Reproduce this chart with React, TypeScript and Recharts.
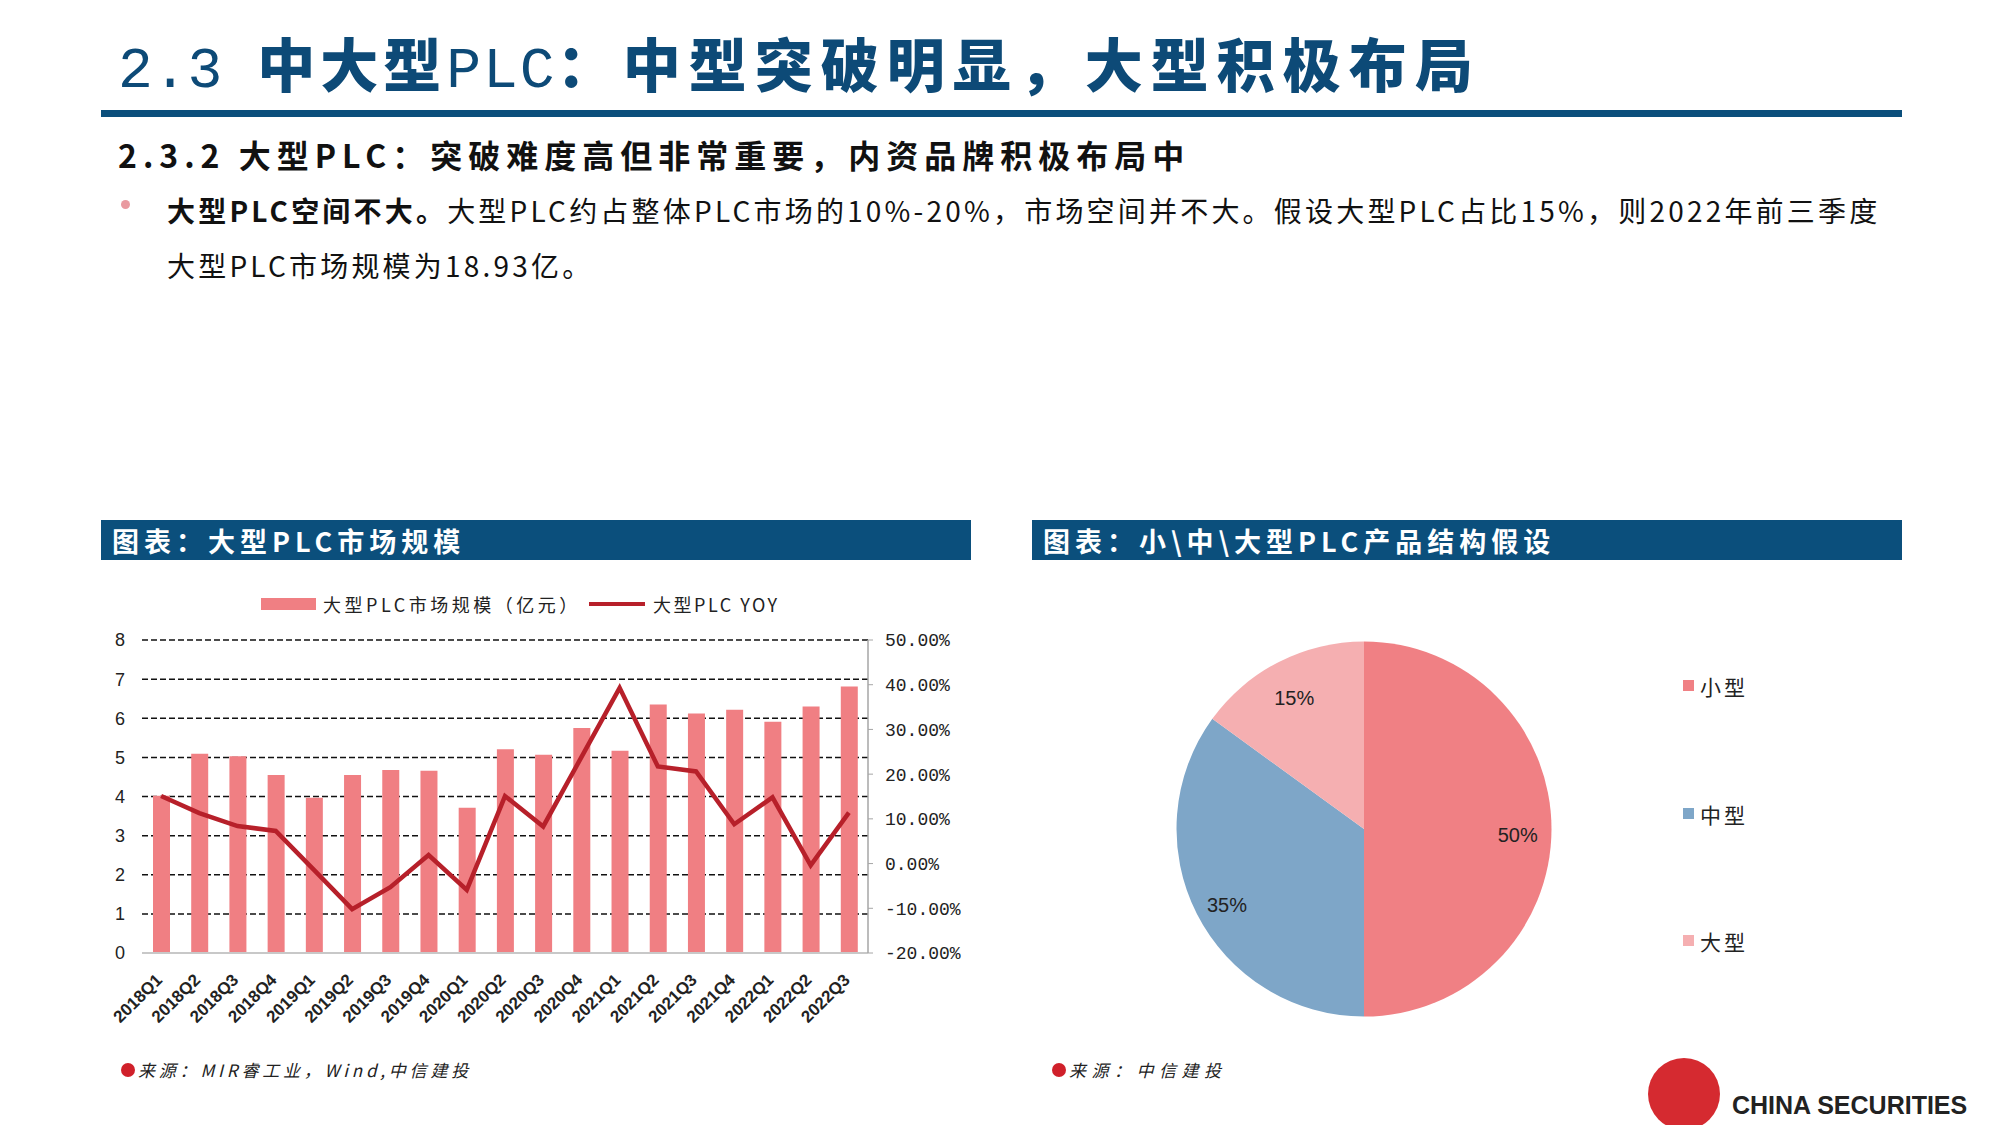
import React from 'react';
import { ComposedChart, Bar, Line, XAxis, YAxis, CartesianGrid, PieChart, Pie, Cell } from 'recharts';

const quarters = [
  '2018Q1', '2018Q2', '2018Q3', '2018Q4', '2019Q1', '2019Q2', '2019Q3', '2019Q4',
  '2020Q1', '2020Q2', '2020Q3', '2020Q4', '2021Q1', '2021Q2', '2021Q3', '2021Q4',
  '2022Q1', '2022Q2', '2022Q3',
];
const marketSize = [4.02, 5.09, 5.03, 4.55, 3.97, 4.55, 4.68, 4.66, 3.71, 5.21, 5.07, 5.75, 5.17, 6.35, 6.12, 6.22, 5.91, 6.3, 6.81];
const yoyPct = [15.1, 11.3, 8.4, 7.3, -1.4, -10.2, -5.3, 1.9, -5.9, 15.1, 8.3, 23.8, 39.3, 21.7, 20.6, 8.8, 14.8, -0.4, 11.4];
const leftTicks = [0, 1, 2, 3, 4, 5, 6, 7, 8];
const rightTicks = [-20, -10, 0, 10, 20, 30, 40, 50];

const pieNames = ['小型', '中型', '大型'];
const pieValues = [50, 35, 15];

const BAR_COLOR = '#F07F83';
const LINE_COLOR = '#B7202A';
const PIE_COLORS = ['#F08084', '#7EA6C8', '#F5AFB1'];
const NAVY = '#0B4F7C';

const sizeData = quarters.map((q, i) => ({ q, size: marketSize[i], yoy: yoyPct[i] }));
const pieData = pieNames.map((name, i) => ({ name, value: pieValues[i] }));

const cjk = '"Noto Sans CJK SC", "Noto Sans", sans-serif';
const mono = '"Liberation Mono", monospace';

const XTick = (props: any) => {
  const { x, y, payload } = props;
  return (
    <g transform={`translate(${x + 2},${y + 26})`}>
      <text transform="rotate(-45)" textAnchor="end" fontFamily="Liberation Sans, Arial" fontWeight="bold" fontSize={17} fill="#222">
        {payload.value}
      </text>
    </g>
  );
};

const RAD = Math.PI / 180;
const pieLabel = (props: any) => {
  const { cx, cy, midAngle, outerRadius, value } = props;
  const r = outerRadius * 0.82;
  const x = cx + r * Math.cos(-midAngle * RAD);
  const y = cy + r * Math.sin(-midAngle * RAD) + 6;
  return (
    <text x={x} y={y} textAnchor="middle" dominantBaseline="central" fontFamily='"Liberation Sans Narrow", "Liberation Sans"' fontSize={20} fill="#222">
      {`${value}%`}
    </text>
  );
};

const abs = (s: React.CSSProperties): React.CSSProperties => ({ position: 'absolute', ...s });

export default function App() {
  return (
    <div style={abs({ left: 0, top: 0, width: 2000, height: 1125, background: '#fff', overflow: 'hidden', fontFamily: cjk })}>
      {/* page title */}
      <div style={abs({ left: 118, top: 33, fontSize: 58, lineHeight: '58px', color: '#0D4A77', whiteSpace: 'nowrap', fontWeight: 900 })}>
        <span style={{ fontFamily: mono, fontWeight: 400 }}>2.3 </span>
        <span style={{ letterSpacing: 5 }}>中大型</span>
        <span style={{ fontFamily: mono, fontWeight: 400, letterSpacing: 2 }}>PLC</span>
        <span style={{ letterSpacing: 8 }}>：中型突破明显，大型积极布局</span>
      </div>
      <div style={abs({ left: 101, top: 110, width: 1801, height: 7, background: NAVY })} />

      <div style={abs({ left: 118, top: 138, fontSize: 32, lineHeight: '32px', fontWeight: 700, color: '#111', letterSpacing: 6, whiteSpace: 'nowrap' })}>
        2.3.2 大型PLC：突破难度高但非常重要，内资品牌积极布局中
      </div>

      <div style={abs({ left: 121, top: 200, width: 9, height: 9, borderRadius: 5, background: '#E99AA0' })} />
      <div style={abs({ left: 167, top: 196, fontSize: 28, lineHeight: '28px', color: '#111', letterSpacing: 3.2, whiteSpace: 'nowrap' })}>
        <b>大型PLC空间不大。</b>大型PLC约占整体PLC市场的10%-20%，市场空间并不大。假设大型PLC占比15%，则2022年前三季度
      </div>
      <div style={abs({ left: 167, top: 251, fontSize: 28, lineHeight: '28px', color: '#111', letterSpacing: 3.2, whiteSpace: 'nowrap' })}>
        大型PLC市场规模为18.93亿。
      </div>

      {/* left panel */}
      <div style={abs({ left: 101, top: 520, width: 870, height: 40, background: NAVY })} />
      <div style={abs({ left: 112, top: 527, fontSize: 27, lineHeight: '27px', fontWeight: 700, color: '#fff', letterSpacing: 5, whiteSpace: 'nowrap' })}>
        图表：大型PLC市场规模
      </div>

      <div style={abs({ left: 261, top: 598, width: 55, height: 12, background: BAR_COLOR })} />
      <div style={abs({ left: 323, top: 594, fontSize: 18, lineHeight: '20px', color: '#222', whiteSpace: 'nowrap', letterSpacing: 3.5 })}>大型PLC市场规模（亿元）</div>
      <div style={abs({ left: 589, top: 602, width: 56, height: 4, background: LINE_COLOR })} />
      <div style={abs({ left: 653, top: 594, fontSize: 18, lineHeight: '20px', color: '#222', whiteSpace: 'nowrap', letterSpacing: 2.5 })}>大型PLC YOY</div>

      <div style={abs({ left: 80, top: 580 })}>
        <ComposedChart width={920} height={470} data={sizeData} margin={{ top: 60, right: 32, bottom: 7, left: 0 }}>
          <CartesianGrid vertical={false} stroke="#111" strokeWidth={1.5} strokeDasharray="6 3" yAxisId="left" />
          <XAxis dataKey="q" interval={0} tick={<XTick />} tickLine={false} tickSize={0} height={90}
            axisLine={{ stroke: '#C8C8C8', strokeWidth: 2 }} />
          <YAxis yAxisId="left" domain={[0, 8]} ticks={leftTicks} width={62} axisLine={false} tickLine={false}
            tickSize={0} tickMargin={17} interval={0}
            tick={{ fontFamily: 'Liberation Sans, Arial', fontSize: 18, fill: '#222' }} />
          <YAxis yAxisId="right" orientation="right" domain={[-20, 50]} ticks={rightTicks} width={100} interval={0}
            axisLine={{ stroke: '#A6A6A6', strokeWidth: 1.5 }} tickLine={{ stroke: '#A6A6A6' }} tickSize={5} tickMargin={12}
            tickFormatter={(v: number) => `${v.toFixed(2)}%`}
            tick={{ fontFamily: mono, fontSize: 18, fill: '#222' }} />
          <Bar yAxisId="left" dataKey="size" fill={BAR_COLOR} barSize={17} isAnimationActive={false} />
          <Line yAxisId="right" dataKey="yoy" type="linear" stroke={LINE_COLOR} strokeWidth={4.5} dot={false} isAnimationActive={false} />
        </ComposedChart>
      </div>

      <div style={abs({ left: 121, top: 1063, width: 14, height: 14, borderRadius: 7, background: '#D0202A' })} />
      <div style={abs({ left: 138, top: 1060, fontSize: 17, lineHeight: '20px', fontStyle: 'italic', color: '#222', whiteSpace: 'nowrap', letterSpacing: 3.8 })}>
        来源：MIR睿工业，Wind,中信建投
      </div>

      {/* right panel */}
      <div style={abs({ left: 1032, top: 520, width: 870, height: 40, background: NAVY })} />
      <div style={abs({ left: 1043, top: 527, fontSize: 27, lineHeight: '27px', fontWeight: 700, color: '#fff', letterSpacing: 5, whiteSpace: 'nowrap' })}>
        图表：小\中\大型PLC产品结构假设
      </div>

      <div style={abs({ left: 1040, top: 600 })}>
        <PieChart width={860} height={470} margin={{ top: 0, right: 0, bottom: 0, left: 0 }}>
          <Pie data={pieData} dataKey="value" nameKey="name" cx={324} cy={229} outerRadius={187.5}
            startAngle={90} endAngle={-270} stroke="none" label={pieLabel} labelLine={false} isAnimationActive={false}>
            {pieData.map((d, i) => <Cell key={d.name} fill={PIE_COLORS[i]} />)}
          </Pie>
        </PieChart>
      </div>

      {pieNames.map((n, i) => (
        <React.Fragment key={n}>
          <div style={abs({ left: 1683, top: [686, 814, 941][i] - 6, width: 11, height: 11, background: PIE_COLORS[i] })} />
          <div style={abs({ left: 1700, top: [686, 814, 941][i] - 12, fontSize: 21, lineHeight: '24px', color: '#222', letterSpacing: 3 })}>{n}</div>
        </React.Fragment>
      ))}

      <div style={abs({ left: 1052, top: 1063, width: 14, height: 14, borderRadius: 7, background: '#D0202A' })} />
      <div style={abs({ left: 1069, top: 1060, fontSize: 17, lineHeight: '20px', fontStyle: 'italic', color: '#222', whiteSpace: 'nowrap', letterSpacing: 5.5 })}>
        来源：中信建投
      </div>

      {/* logo */}
      <div style={abs({ left: 1648, top: 1058, width: 72, height: 72, borderRadius: 36, background: '#D52A30' })} />
      <div style={abs({ left: 1732, top: 1091, fontSize: 25, lineHeight: '28px', fontWeight: 700, color: '#222', fontFamily: '"Liberation Sans Narrow", "Liberation Sans"', whiteSpace: 'nowrap' })}>
        CHINA SECURITIES
      </div>
    </div>
  );
}
